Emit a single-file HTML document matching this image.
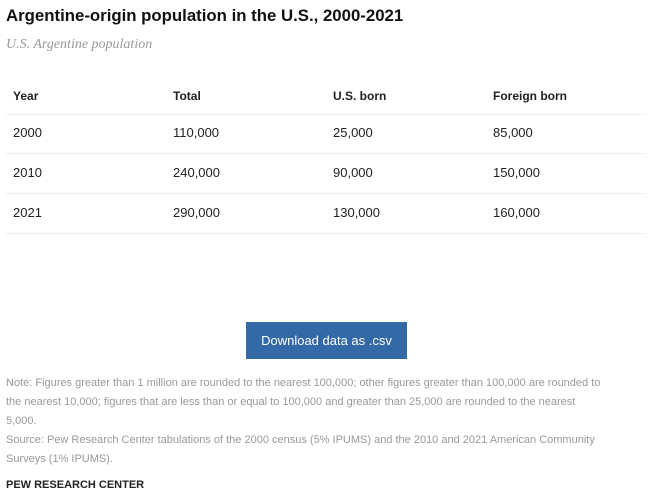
<!DOCTYPE html>
<html><head><meta charset="utf-8"><style>
body{margin:0;width:656px;height:497px;background:#fff;font-family:"Liberation Sans",Arial,sans-serif;position:relative;overflow:hidden}
.a{position:absolute;white-space:nowrap}
#title{left:6px;top:6px;font-size:16.8px;font-weight:bold;color:#111}
#sub{left:6px;top:37px;font-family:"Liberation Serif",serif;font-style:italic;font-size:14px;color:#999}
.cell{position:absolute;font-size:13px;color:#222;line-height:16px}
.hd{font-weight:bold;font-size:12px}
.line{position:absolute;left:6px;width:640px;height:0;border-top:1px solid #eee}
#btn{left:246px;top:322px;width:161px;height:37px;background:#3469a8;color:#fff;font-size:13px;line-height:37px;text-align:center}
#note{left:6px;top:374px;font-size:11px;line-height:19px;color:#999}
#foot{left:6px;top:479px;font-size:11px;font-weight:bold;color:#222}
</style></head><body>
<div class="a" id="title">Argentine-origin population in the U.S., 2000-2021</div>
<div class="a" id="sub">U.S. Argentine population</div>
<div id="table"></div>
<div class="a" id="btn">Download data as .csv</div>
<div class="a" id="note">Note: Figures greater than 1 million are rounded to the nearest 100,000; other figures greater than 100,000 are rounded to<br>the nearest 10,000; figures that are less than or equal to 100,000 and greater than 25,000 are rounded to the nearest<br>5,000.<br>Source: Pew Research Center tabulations of the 2000 census (5% IPUMS) and the 2010 and 2021 American Community<br>Surveys (1% IPUMS).</div>
<div class="a" id="foot">PEW RESEARCH CENTER</div>
<script>
const headers=["Year","Total","U.S. born","Foreign born"];
const years=["2000","2010","2021"];
const totals=["110,000","240,000","290,000"];
const usBorn=["25,000","90,000","130,000"];
const foreignBorn=["85,000","150,000","160,000"];
const t=document.getElementById('table');
const colX=[13,173,333,493];
headers.forEach((h,i)=>{const d=document.createElement('div');d.className='cell hd';d.style.left=colX[i]+'px';d.style.top='88px';d.textContent=h;


t.appendChild(d);});
function ln(y){const l=document.createElement('div');l.className='line';l.style.top=y+'px';


t.appendChild(l);}
ln(114);
years.forEach((y,r)=>{const vals=[y,totals[r],usBorn[r],foreignBorn[r]];const top=125+r*40;
vals.forEach((v,i)=>{const d=document.createElement('div');d.className='cell';d.style.left=colX[i]+'px';d.style.top=top+'px';d.textContent=v;


t.appendChild(d);});
ln(153+r*40);});
</script>
</body></html>
